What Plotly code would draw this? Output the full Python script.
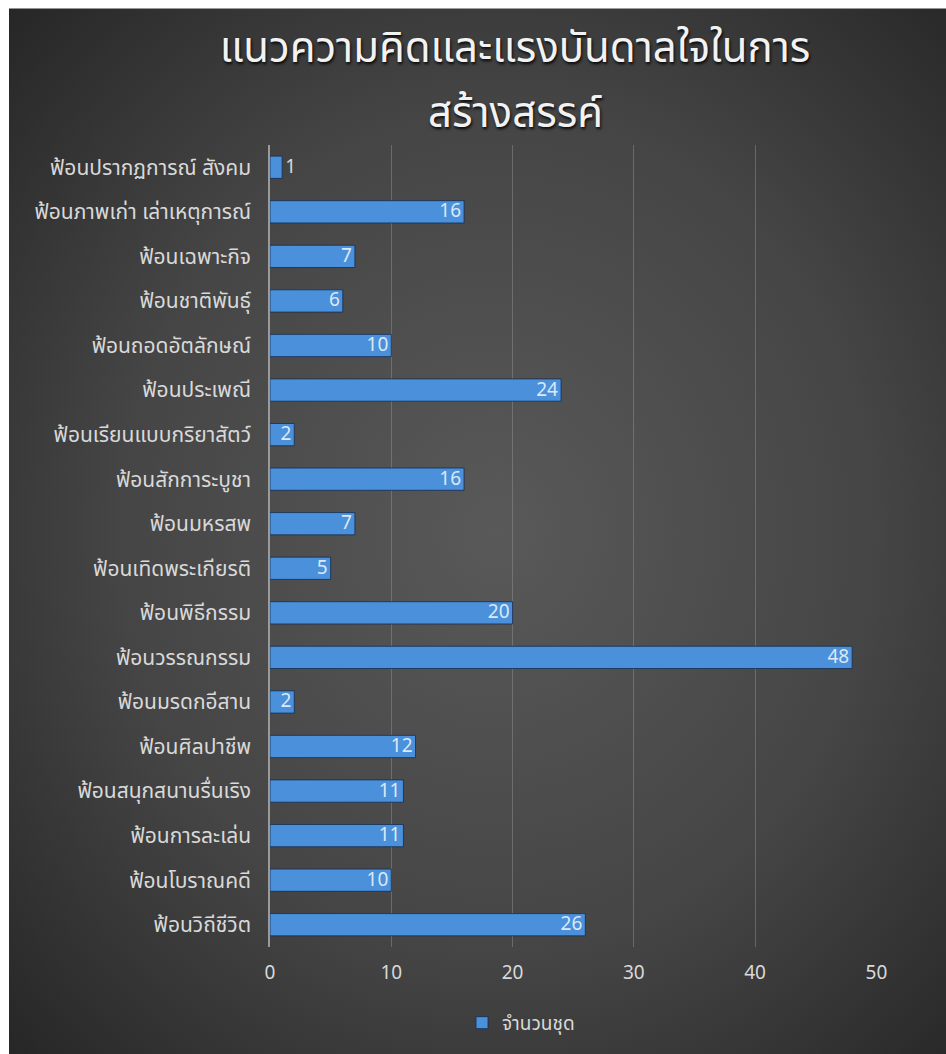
import plotly.graph_objects as go
import urllib.parse

categories = [
    "ฟ้อนวิถีชีวิต", "ฟ้อนโบราณคดี", "ฟ้อนการละเล่น", "ฟ้อนสนุกสนานรื่นเริง",
    "ฟ้อนศิลปาชีพ", "ฟ้อนมรดกอีสาน", "ฟ้อนวรรณกรรม", "ฟ้อนพิธีกรรม",
    "ฟ้อนเทิดพระเกียรติ", "ฟ้อนมหรสพ", "ฟ้อนสักการะบูชา", "ฟ้อนเรียนแบบกริยาสัตว์",
    "ฟ้อนประเพณี", "ฟ้อนถอดอัตลักษณ์", "ฟ้อนชาติพันธุ์", "ฟ้อนเฉพาะกิจ",
    "ฟ้อนภาพเก่า เล่าเหตุการณ์", "ฟ้อนปรากฏการณ์ สังคม",
]
values = [26, 10, 11, 11, 12, 2, 48, 20, 5, 7, 16, 2, 24, 10, 6, 7, 16, 1]
series_name = "จำนวนชุด"
title_line1 = "แนวความคิดและแรงบันดาลใจในการ"
title_line2 = "สร้างสรรค์"
x_ticks = [0, 10, 20, 30, 40, 50]

W, H = 946, 1054
L, R, T, B = 270, 69, 145, 105
pw, ph = W - L - R, H - T - B

FONT = "Noto Sans Thai, Tahoma, Segoe UI, DejaVu Sans, sans-serif"
TXT = "#d9d9d9"

BGW, BGH = 960, 1070
svg = (
    f"<svg xmlns='http://www.w3.org/2000/svg' width='{BGW}' height='{BGH}'>"
    "<defs><radialGradient id='g' cx='51%' cy='49%' r='72%'>"
    "<stop offset='0%' stop-color='#595959'/>"
    "<stop offset='55%' stop-color='#454545'/>"
    "<stop offset='100%' stop-color='#252525'/>"
    "</radialGradient></defs>"
    f"<rect width='{BGW}' height='{BGH}' fill='url(#g)'/></svg>"
)
bg_src = "data:image/svg+xml;charset=utf-8," + urllib.parse.quote(svg)

text_pos = ["outside" if v < 2 else "inside" for v in values]

fig = go.Figure()
fig.add_trace(go.Bar(
    y=categories, x=values, orientation="h", name=series_name,
    width=0.5,
    marker=dict(color="#4a90da", line=dict(color="rgba(20,45,80,0.8)", width=1)),
    text=[str(v) for v in values],
    textposition=text_pos,
    textangle=0,
    constraintext="none",
    insidetextanchor="end",
    insidetextfont=dict(color="#dbe8f6", size=19, family=FONT),
    outsidetextfont=dict(color=TXT, size=19, family=FONT),
    cliponaxis=False,
))

title_font = dict(family=FONT, size=42, color="#f2f2f2",
                  shadow="1px 2px 3px rgba(0,0,0,0.9)")

fig.update_layout(
    width=W, height=H,
    margin=dict(l=L, r=R, t=T, b=B),
    paper_bgcolor="white",
    plot_bgcolor="rgba(0,0,0,0)",
    images=[dict(
        source=bg_src, xref="paper", yref="paper",
        x=(9 - L) / pw, y=(H - B - 8) / ph,
        sizex=BGW / pw, sizey=BGH / ph,
        xanchor="left", yanchor="top", sizing="stretch", layer="below",
    )],
    title=dict(
        text=title_line1, x=515 / W, xanchor="center", y=1 - 47 / H, yanchor="middle",
        font=title_font,
    ),
    annotations=[dict(
        text=title_line2, xref="paper", yref="paper",
        x=(515 - L) / pw, xanchor="center",
        y=(H - B - 114) / ph, yanchor="middle", showarrow=False,
        font=title_font,
    )],
    showlegend=True,
    legend=dict(
        orientation="h", x=(521 - L) / pw, xanchor="center",
        y=-(1025 - (H - B)) / ph, yanchor="middle",
        font=dict(family=FONT, size=19, color=TXT),
        bgcolor="rgba(0,0,0,0)", itemwidth=30,
    ),
    font=dict(family=FONT, color=TXT),
)
fig.update_xaxes(
    range=[0, 50.05], tickvals=x_ticks, ticktext=[str(t) for t in x_ticks],
    showgrid=True, gridcolor="rgba(150,150,150,0.45)", gridwidth=1,
    zeroline=False, showline=False, ticks="",
    tickfont=dict(family=FONT, size=19, color=TXT), ticklabelstandoff=12,
)
fig.update_yaxes(
    showgrid=False, showline=True, linecolor="#9a9a9a", linewidth=1.5,
    ticks="", tickfont=dict(family=FONT, size=21, color=TXT),
    ticklabelstandoff=13, zeroline=False,
)

fig.write_html("out.html", config={"displayModeBar": False},
               post_script="document.body.style.margin='0';")
